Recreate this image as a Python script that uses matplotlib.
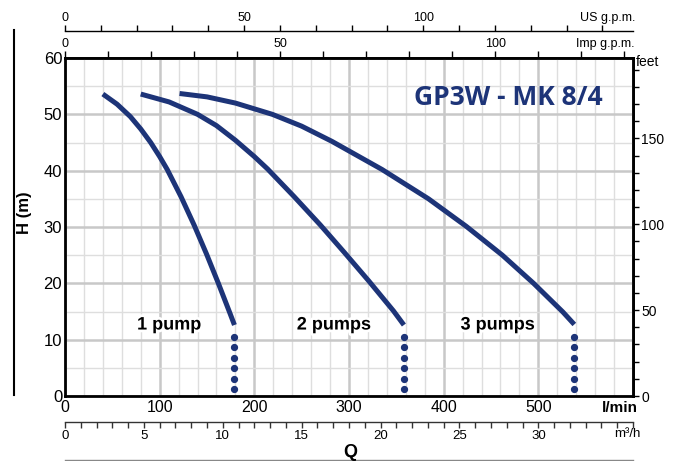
import matplotlib
matplotlib.use("Agg")
import matplotlib.pyplot as plt
import matplotlib.patheffects as pe
from matplotlib.ticker import MultipleLocator, FixedLocator, FuncFormatter
from matplotlib.lines import Line2D

# curves: flow (l/min) vs head (m)
q_1pump = [40, 55, 69, 80, 90.5, 100, 108, 122.5, 136.5, 149.5, 162, 174, 179]
h_1pump = [53.6, 51.8, 49.6, 47.4, 45.0, 42.5, 40.2, 35.4, 30.3, 25.2, 20.0, 14.8, 12.6]
q_2pumps = [80, 110, 140, 160, 180, 200, 214, 242, 269.5, 295, 321, 347, 358]
h_2pumps = [53.6, 52.2, 50.0, 48.0, 45.4, 42.5, 40.3, 35.4, 30.4, 25.5, 20.4, 15.1, 12.6]
q_3pumps = [121, 150, 180, 219, 250, 282, 335, 384, 424, 462, 495, 526, 538]
h_3pumps = [53.7, 53.1, 52.0, 50.0, 47.9, 45.2, 40.2, 35.0, 30.1, 25.0, 20.0, 14.9, 12.7]
h_dots = [10.5, 8.65, 6.8, 4.95, 3.1, 1.25]
labels = ["1 pump", "2 pumps", "3 pumps"]
label_q = [110, 284, 457]
label_h = 12.6
title = "GP3W - MK 8/4"

NAVY = "#1d3478"
plt.rcParams['font.family'] = ['Liberation Sans', 'DejaVu Sans']

fig = plt.figure(figsize=(6.78, 4.61), dpi=100)
W, H = 678, 461
ax = fig.add_axes([65 / W, 1 - 396 / H, 568 / W, 338 / H])
ax.set_xlim(0, 600)
ax.set_ylim(0, 60)

ax.xaxis.set_major_locator(MultipleLocator(100))
ax.xaxis.set_minor_locator(MultipleLocator(20))
ax.yaxis.set_major_locator(MultipleLocator(10))
ax.yaxis.set_minor_locator(MultipleLocator(5))
ax.xaxis.set_major_formatter(FuncFormatter(lambda v, p: "" if v >= 600 else f"{v:.0f}"))
ax.grid(which="minor", color="#dedede", lw=1.0)
ax.grid(which="major", color="#c8c8c8", lw=1.8)
ax.set_axisbelow(True)
ax.tick_params(which="both", length=0)
ax.tick_params(axis="x", labelsize=11.5, pad=3)
ax.tick_params(axis="y", labelsize=12, pad=2)
for s in ax.spines.values():
    s.set_linewidth(2)

# pump curves
for q, h in [(q_1pump, h_1pump), (q_2pumps, h_2pumps), (q_3pumps, h_3pumps)]:
    ax.plot(q, h, color=NAVY, lw=3.6, solid_capstyle="butt", solid_joinstyle="round")
    ax.plot([q[-1]] * len(h_dots), h_dots, ls="none", marker="o", ms=4.2, color=NAVY)

for lab, q in zip(labels, label_q):
    ax.text(q, label_h, lab, ha="center", va="center", fontsize=13, fontweight="bold",
            path_effects=[pe.withStroke(linewidth=4, foreground="white")])

ax.text(0.78, 0.882, title, transform=ax.transAxes, ha="center", va="center",
        fontsize=19, fontweight="bold", color=NAVY, family="Open Sans")

# Imp g.p.m. on the top spine
imp = ax.secondary_xaxis("top", functions=(lambda q: q / 4.546, lambda g: g * 4.546))
imp.xaxis.set_major_locator(FixedLocator([0, 50, 100]))
imp.xaxis.set_minor_locator(MultipleLocator(10))
imp.tick_params(which="both", direction="out", length=5, width=1, labelsize=9, pad=1)
imp.spines["top"].set_linewidth(2)

# US g.p.m. line above
us = ax.secondary_xaxis(1.08, functions=(lambda q: q / 3.785, lambda g: g * 3.785))
us.xaxis.set_major_locator(FixedLocator([0, 50, 100]))
us.xaxis.set_minor_locator(MultipleLocator(10))
us.tick_params(which="both", direction="out", length=4, width=1, labelsize=9, pad=1)
us.spines["top"].set_linewidth(1)

# m3/h line below
m3 = ax.secondary_xaxis(-0.077, functions=(lambda q: q * 0.06, lambda m: m / 0.06))
m3.xaxis.set_major_locator(FixedLocator([0, 5, 10, 15, 20, 25, 30]))
m3.xaxis.set_minor_locator(MultipleLocator(1))
m3.tick_params(which="both", direction="out", length=4, width=1, labelsize=9.5, pad=2,
               color="#333333")
m3.spines["bottom"].set_linewidth(1)
m3.spines["bottom"].set_color("#333333")

# feet on the right
ft = ax.secondary_yaxis("right", functions=(lambda m: m * 3.2808, lambda f: f / 3.2808))
ft.yaxis.set_major_locator(FixedLocator([0, 50, 100, 150]))
ft.yaxis.set_minor_locator(MultipleLocator(10))
ft.tick_params(which="both", direction="out", length=4, width=1, labelsize=10, pad=2)
ft.spines["right"].set_linewidth(2)

# unit labels
fig.text(25 / W, 1 - 213 / H, "H (m)", rotation=90, ha="center", va="center",
         fontsize=12, fontweight="bold")
fig.text(350 / W, 1 - 452 / H, "Q", ha="center", va="center", fontsize=13, fontweight="bold")
fig.text(620 / W, 1 - 408 / H, "l/min", ha="center", va="center", fontsize=11, fontweight="bold")
fig.text(627 / W, 1 - 434 / H, "m³/h", ha="center", va="center", fontsize=9.5)
fig.text(636 / W, 1 - 62 / H, "feet", ha="left", va="center", fontsize=10)
fig.text(635 / W, 1 - 44 / H, "Imp g.p.m.", ha="right", va="center", fontsize=9)
fig.text(635 / W, 1 - 18 / H, "US g.p.m.", ha="right", va="center", fontsize=9)

fig.add_artist(Line2D([14 / W, 14 / W], [1 - 395 / H, 1 - 30 / H], color="black", lw=1.5))
fig.add_artist(Line2D([65 / W, 633 / W], [1 - 460 / H, 1 - 460 / H], color="#888888", lw=1))

fig.savefig("out.png", dpi=100)
